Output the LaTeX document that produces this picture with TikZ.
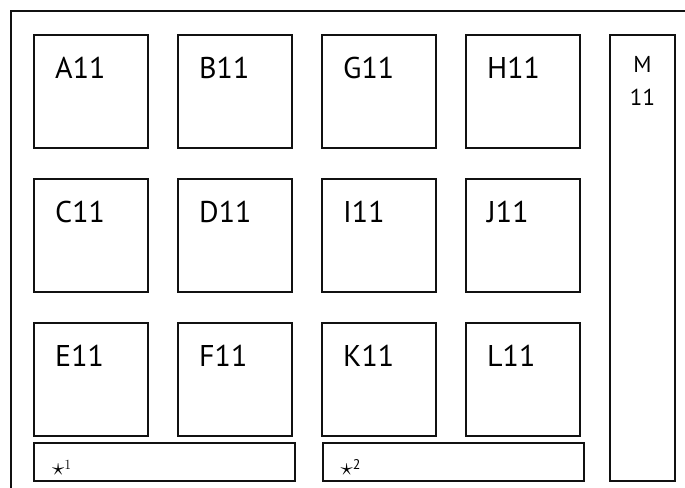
\documentclass[tikz,border=0pt]{standalone}
\usepackage{fontspec}
\usepackage{tikz}
\usetikzlibrary{positioning}
\newfontfamily\boxfont{PT Sans}
\definecolor{planline}{HTML}{111111}
\tikzset{
  cell/.style={draw=planline,line width=2pt,minimum width=114pt,minimum height=113pt,
               inner sep=0pt},
  bar/.style={draw=planline,line width=2pt,minimum width=261pt,minimum height=38pt,
              inner sep=0pt},
  outerframe/.style={draw=planline,line width=1.6pt},
  celltext/.style={inner sep=0pt,font=\boxfont\fontsize{30}{36}\selectfont},
  sidetext/.style={inner sep=0pt,align=center,font=\boxfont\fontsize{23}{33}\selectfont},
  startext/.style={inner sep=0pt,font=\fontsize{30}{34}\selectfont}
}

\begin{document}
\begin{tikzpicture}[x=1pt,y=-1pt]
    \clip (0,0) rectangle (685,487);
    \draw[outerframe] (11,11) rectangle (700,500);

    \node[cell] (a11) at (91,91.5) {};
    \node[cell] (b11) at (235,91.5) {};
    \node[cell] (g11) at (379,91.5) {};
    \node[cell] (h11) at (523,91.5) {};
    \node[cell] (c11) at (91,235.5) {};
    \node[cell] (d11) at (235,235.5) {};
    \node[cell] (i11) at (379,235.5) {};
    \node[cell] (j11) at (523,235.5) {};
    \node[cell] (e11) at (91,379) {};
    \node[cell] (f11) at (235,379) {};
    \node[cell] (k11) at (379,379) {};
    \node[cell] (l11) at (523,379) {};
    \node[cell,minimum width=65pt,minimum height=446pt] (m11) at (642.5,258) {};
    \node[bar] (bar1) at (164.5,462) {};
    \node[bar] (bar2) at (453,462) {};

    \node[celltext,below right=23pt and 22pt of a11.north west] (a11t) {A11};
    \node[celltext,below right=23pt and 22pt of b11.north west] (b11t) {B11};
    \node[celltext,below right=23pt and 22pt of g11.north west] (g11t) {G11};
    \node[celltext,below right=23pt and 22pt of h11.north west] (h11t) {H11};
    \node[celltext,below right=23pt and 22pt of c11.north west] (c11t) {C11};
    \node[celltext,below right=23pt and 22pt of d11.north west] (d11t) {D11};
    \node[celltext,below right=23pt and 22pt of i11.north west] (i11t) {I11};
    \node[celltext,below right=23pt and 22pt of j11.north west] (j11t) {J11};
    \node[celltext,below right=23pt and 22pt of e11.north west] (e11t) {E11};
    \node[celltext,below right=23pt and 22pt of f11.north west] (f11t) {F11};
    \node[celltext,below right=23pt and 22pt of k11.north west] (k11t) {K11};
    \node[celltext,below right=23pt and 22pt of l11.north west] (l11t) {L11};
    \node[sidetext,below=22pt of m11.north] (m11t) {M\\11};

    \node[startext,below right=13pt and 19pt of bar1.west,anchor=base west] (star1)
      {$\star$\raisebox{6pt}{\fontsize{14}{16}\selectfont 1}};
    \node[startext,below right=13pt and 19pt of bar2.west,anchor=base west] (star2)
      {$\star$\raisebox{6pt}{\boxfont\fontsize{14}{16}\selectfont 2}};
  \end{tikzpicture}
\end{document}
